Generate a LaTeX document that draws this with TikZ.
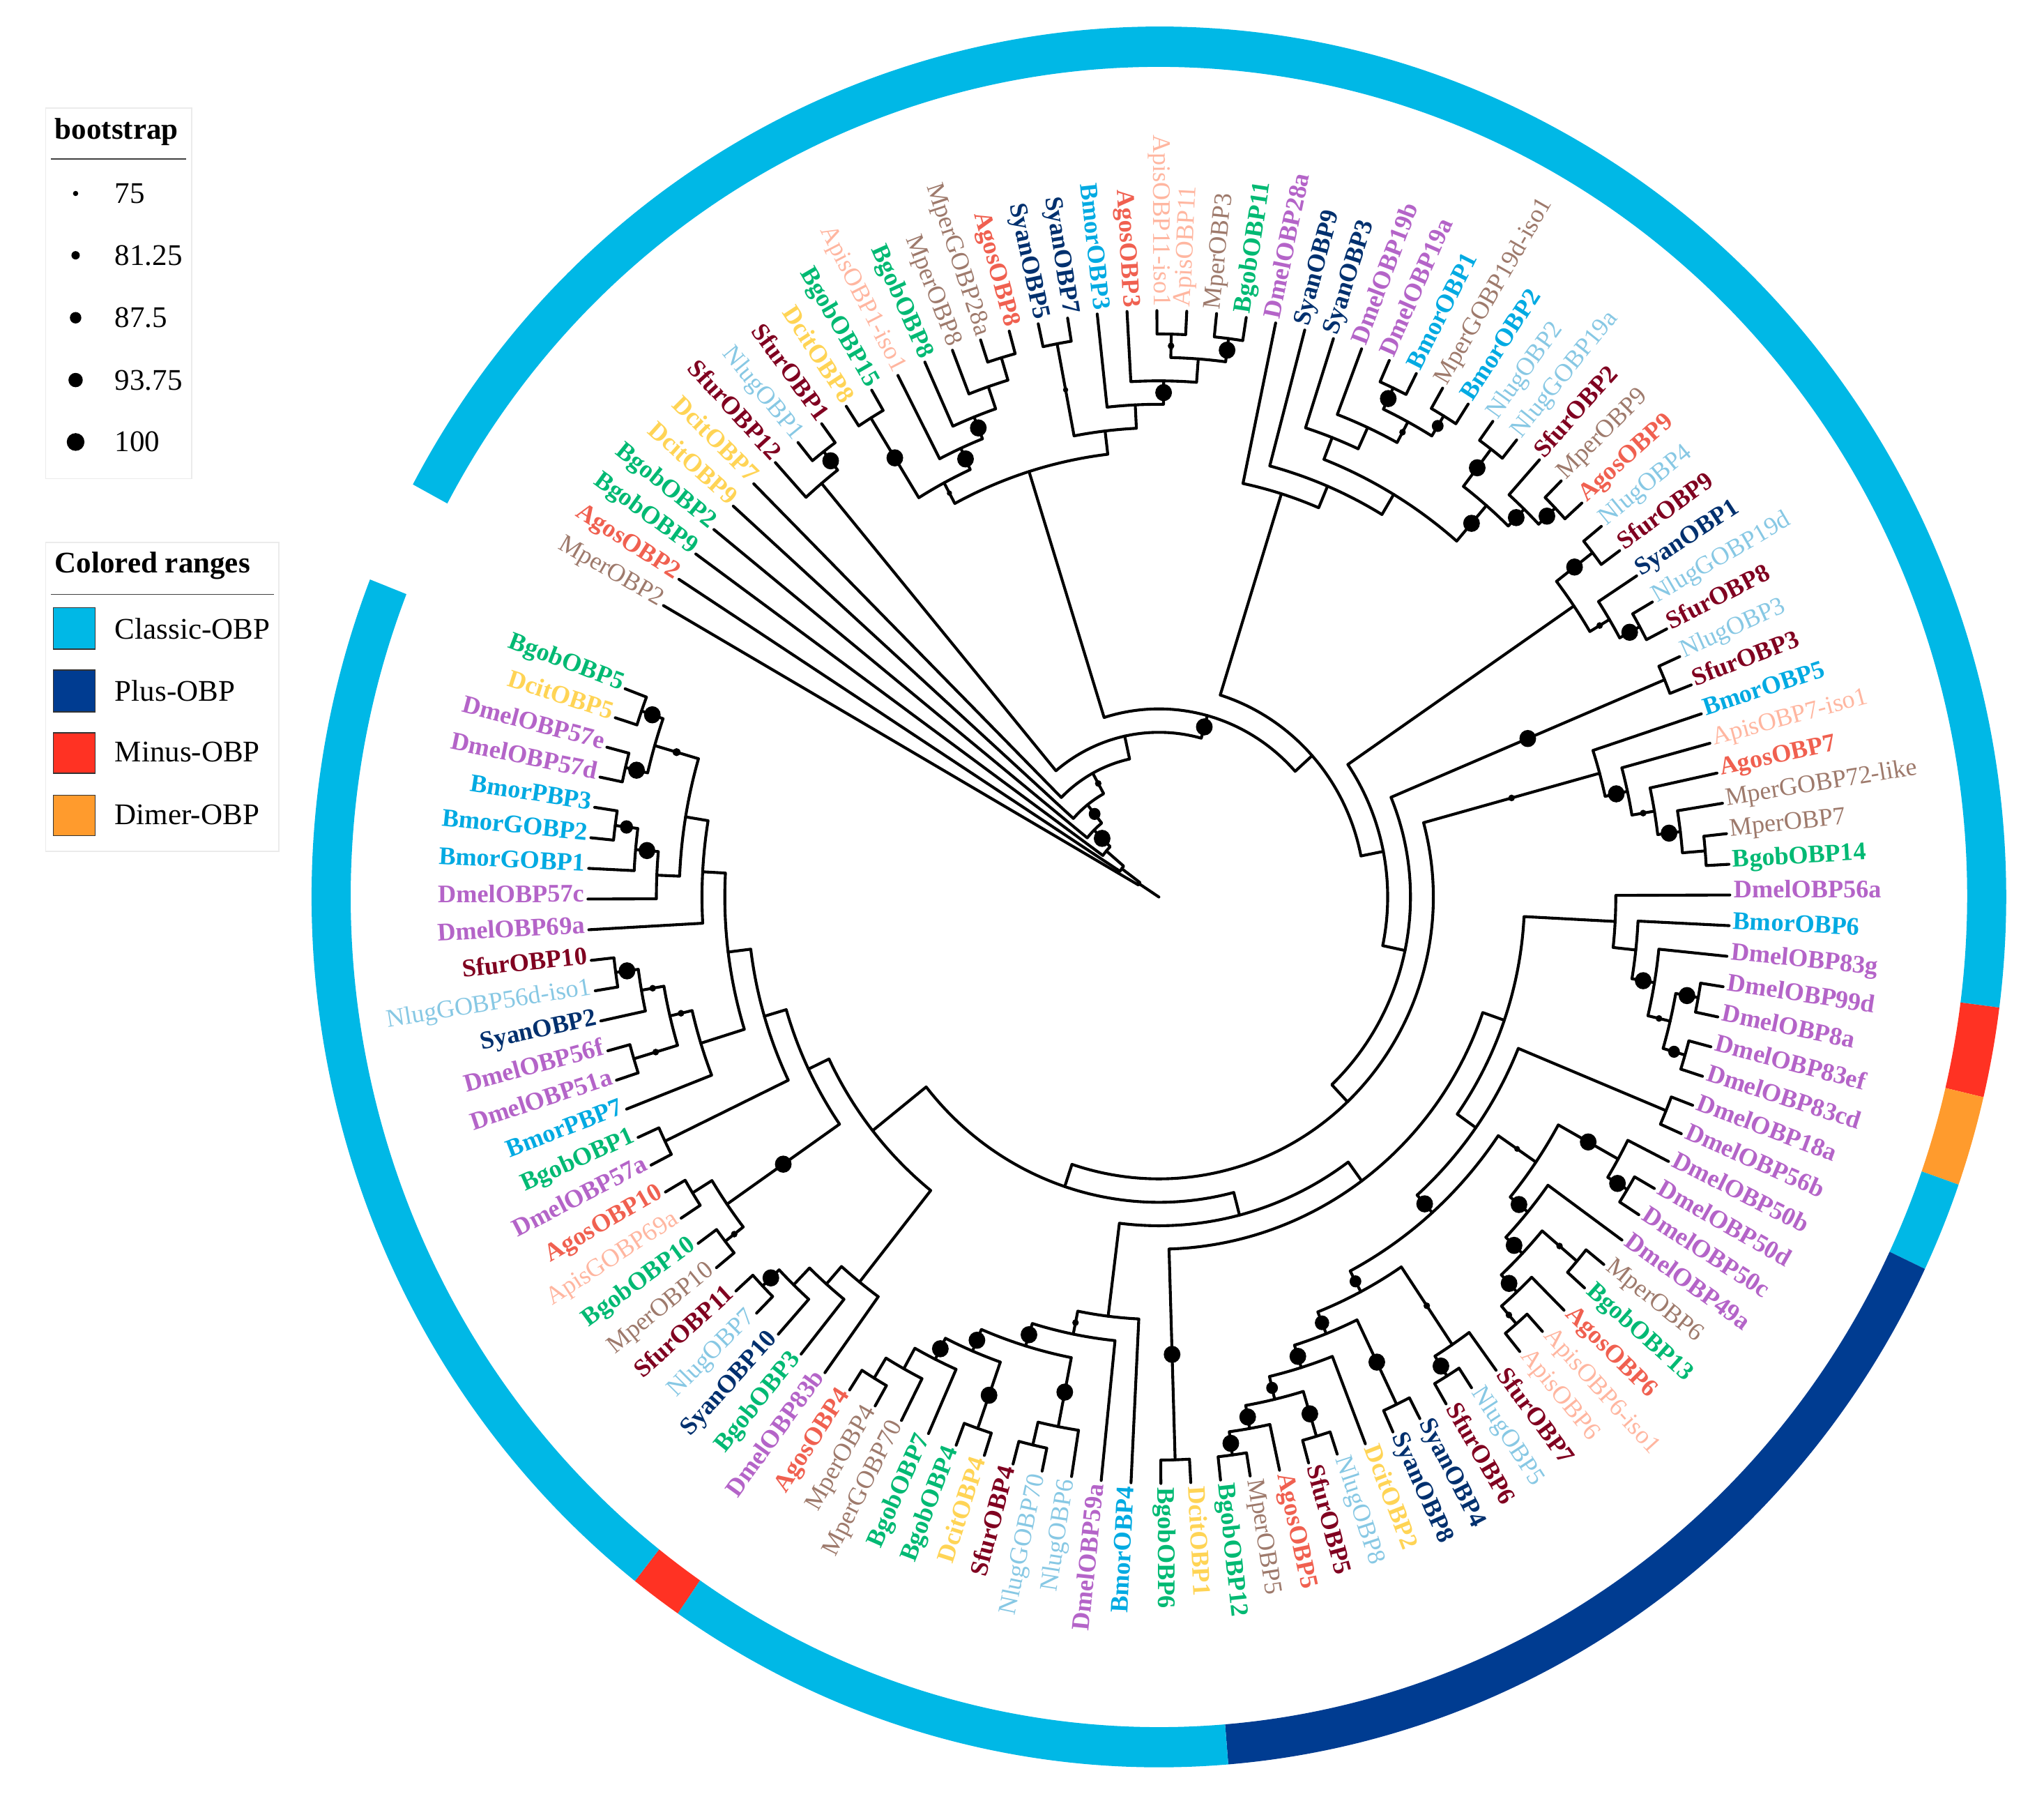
\documentclass[tikz,border=0pt]{standalone}
\usepackage{fontspec}
\setmainfont{Liberation Serif}
\definecolor{cBgob}{RGB}{0,185,115}
\definecolor{cDcit}{RGB}{255,212,85}
\definecolor{cDmel}{RGB}{180,100,200}
\definecolor{cBmor}{RGB}{0,170,226}
\definecolor{cSfur}{RGB}{128,0,32}
\definecolor{cNlug}{RGB}{135,200,228}
\definecolor{cSyan}{RGB}{0,48,110}
\definecolor{cMper}{RGB}{158,122,108}
\definecolor{cAgos}{RGB}{240,96,80}
\definecolor{cApis}{RGB}{255,182,160}
\definecolor{cClassic}{RGB}{0,184,230}
\definecolor{cPlus}{RGB}{0,60,145}
\definecolor{cMinus}{RGB}{255,50,35}
\definecolor{cDimer}{RGB}{255,155,45}
\newcommand\LF{\fontsize{19.4}{22}\selectfont}
\newcommand\PA[1]{(150.2-3*((#1)-1))}
\newcommand\HR[1]{(438-17.5*(#1))}
\newcommand\TWO[5]{\draw[br] ({\PA{#2}}:{\HR{#3}}) -- ({\PA{#2}}:{\HR{#1}}) arc[start angle={\PA{#2}}, end angle={\PA{#4}}, radius={\HR{#1}}] -- ({\PA{#4}}:{\HR{#5}});}
\newcommand\DT[4]{\fill ({\PA{#1}}:{(\HR{#2}+\HR{#3})/2}) circle[radius=#4];}
\newcommand\LR[3]{\node[lab,#2,anchor=mid west,rotate={\PA{#1}}] (L#1) at ({\PA{#1}}:441) {#3};}
\newcommand\LL[3]{\node[lab,#2,anchor=mid east,rotate={\PA{#1}+180}] (L#1) at ({\PA{#1}}:441) {#3};}
\newcommand\RING[3]{\fill[#1] ({\PA{#2}}:650) arc[start angle={\PA{#2}}, end angle={\PA{#3}}, radius=650] -- ({\PA{#3}}:620) arc[start angle={\PA{#3}}, end angle={\PA{#2}}, radius=620] -- cycle;}
\tikzset{
 br/.style={line width=2.2pt, line cap=round, line join=round},
 lab/.style={inner sep=0pt, outer sep=0pt},
 Bgob/.style={text=cBgob, font=\LF\bfseries},
 Dcit/.style={text=cDcit, font=\LF\bfseries},
 Dmel/.style={text=cDmel, font=\LF\bfseries},
 Bmor/.style={text=cBmor, font=\LF\bfseries},
 Sfur/.style={text=cSfur, font=\LF\bfseries},
 Syan/.style={text=cSyan, font=\LF\bfseries},
 Agos/.style={text=cAgos, font=\LF\bfseries},
 Nlug/.style={text=cNlug, font=\LF},
 Mper/.style={text=cMper, font=\LF},
 Apis/.style={text=cApis, font=\LF},
 legtxt/.style={anchor=west, inner sep=0pt, font=\fontsize{23}{26}\selectfont},
 legttl/.style={anchor=west, inner sep=0pt, font=\fontsize{23}{26}\selectfont\bfseries},
 legbox/.style={draw=black!8, line width=0.8pt},
 swatch/.style={draw=black!80, line width=0.8pt},
}
\begin{document}
\begin{tikzpicture}[x=1pt,y=1pt]
\fill[white] (0,0) rectangle (1568,-1381);
\useasboundingbox (0,0) rectangle (1568,-1381);
% ---------- legend ----------
\draw[legbox] (35,-83) rectangle (147,-367);
\node[legttl] (bt) at (42,-101) {bootstrap};
\draw[line width=0.8pt, black!75] (39,-122) -- (143,-122);
\fill (58,-148.4) circle[radius=2];
\fill (58,-195.8) circle[radius=3.2];
\fill (58,-243.7) circle[radius=4.4];
\fill (58,-291.5) circle[radius=5.5];
\fill (58,-339) circle[radius=6.8];
\node[legtxt] (b1) at (88,-148.4) {75};
\node[legtxt] (b2) at (88,-195.8) {81.25};
\node[legtxt] (b3) at (88,-243.7) {87.5};
\node[legtxt] (b4) at (88,-291.5) {93.75};
\node[legtxt] (b5) at (88,-339) {100};
\draw[legbox] (35,-416) rectangle (214,-653);
\node[legttl] (cr) at (42,-434) {Colored ranges};
\draw[line width=0.8pt, black!75] (39,-456) -- (210,-456);
\draw[swatch, fill=cClassic] (41,-466) rectangle (73,-498);
\draw[swatch, fill=cPlus] (41,-514) rectangle (73,-546);
\draw[swatch, fill=cMinus] (41,-562) rectangle (73,-593);
\draw[swatch, fill=cDimer] (41,-610) rectangle (73,-641);
\node[legtxt] (r1) at (88,-482) {Classic-OBP};
\node[legtxt] (r2) at (88,-530) {Plus-OBP};
\node[legtxt] (r3) at (88,-577) {Minus-OBP};
\node[legtxt] (r4) at (88,-625) {Dimer-OBP};
% ---------- tree ----------
\begin{scope}[shift={(889,-688)}, yscale=1.027]
\RING{cClassic}{0.5}{53.5}
\RING{cMinus}{53.5}{55.5}
\RING{cDimer}{55.5}{57.5}
\RING{cClassic}{57.5}{59.5}
\RING{cPlus}{59.5}{79.5}
\RING{cClassic}{79.5}{92.6}
\RING{cMinus}{92.6}{93.8}
\RING{cClassic}{93.8}{118.2}
% T1
\TWO{1}{8}{0}{9}{0}
\TWO{2}{7}{0}{8.5}{1}
% T2
\TWO{1}{10}{0}{11}{0}
\TWO{1}{15}{0}{16}{0}
\TWO{2}{14}{0}{15.5}{1}
\TWO{3}{13}{0}{14.75}{2}
\TWO{4}{12}{0}{13.875}{3}
\TWO{5}{10.5}{1}{12.9375}{4}
\TWO{1}{17}{0}{18}{0}
\TWO{1}{21}{0}{22}{0}
\TWO{1}{23}{0}{24}{0}
\TWO{2}{21.5}{1}{23.5}{1}
\TWO{3}{20}{0}{22.5}{2}
\TWO{4}{19}{0}{21.25}{3}
\TWO{5}{17.5}{1}{20.125}{4}
\TWO{6}{11.71875}{5}{18.8125}{5}
% CTop
\TWO{1}{29}{0}{30}{0}
\TWO{1}{31}{0}{32}{0}
\TWO{2}{29.5}{1}{31.5}{1}
\TWO{3}{28}{0}{30.5}{2}
\TWO{4}{27}{0}{29.25}{3}
\TWO{1}{33}{0}{34}{0}
\TWO{1}{36}{0}{37}{0}
\TWO{2}{35}{0}{36.5}{1}
\TWO{3}{33.5}{1}{35.75}{2}
\TWO{5}{28.125}{4}{34.625}{3}
\TWO{6}{26}{0}{31.375}{5}
\TWO{7}{25}{0}{28.6875}{6}
% C5
\TWO{1}{38}{0}{39}{0}
\TWO{1}{41}{0}{42}{0}
\TWO{2}{40}{0}{41.5}{1}
\TWO{3}{38.5}{1}{40.75}{2}
\TWO{1}{43}{0}{44}{0}
% N45
\TWO{1}{49}{0}{50}{0}
\TWO{2}{48}{0}{49.5}{1}
\TWO{3}{47}{0}{48.75}{2}
\TWO{4}{46}{0}{47.875}{3}
\TWO{5}{45}{0}{46.9375}{4}
% E
\TWO{1}{54}{0}{55}{0}
\TWO{1}{56}{0}{57}{0}
\TWO{2}{54.5}{1}{56.5}{1}
\TWO{3}{53}{0}{55.5}{2}
\TWO{4}{52}{0}{54.25}{3}
\TWO{5}{51}{0}{53.125}{4}
% F
\TWO{1}{58}{0}{59}{0}
\TWO{1}{61}{0}{62}{0}
\TWO{2}{60}{0}{61.5}{1}
\TWO{1}{64}{0}{65}{0}
\TWO{1}{67}{0}{68}{0}
\TWO{2}{66}{0}{67.5}{1}
\TWO{3}{64.5}{1}{66.75}{2}
\TWO{4}{63}{0}{65.625}{3}
\TWO{5}{60.75}{2}{64.3125}{4}
\TWO{1}{78}{0}{79}{0}
\TWO{2}{77}{0}{78.5}{1}
\TWO{1}{75}{0}{76}{0}
\TWO{3}{75.5}{1}{77.75}{2}
\TWO{4}{74}{0}{76.625}{3}
\TWO{1}{72}{0}{73}{0}
\TWO{5}{72.5}{1}{75.3125}{4}
\TWO{1}{70}{0}{71}{0}
\TWO{2}{69}{0}{70.5}{1}
\TWO{6}{69.75}{2}{73.90625}{5}
\TWO{7}{62.53125}{5}{71.828125}{6}
\TWO{8}{58.5}{1}{67.1796875}{7}
\TWO{9}{52.0625}{5}{62.83984375}{8}
% G
\TWO{1}{80}{0}{81}{0}
\TWO{1}{91}{0}{92}{0}
\TWO{2}{90}{0}{91.5}{1}
\TWO{3}{89}{0}{90.75}{2}
\TWO{1}{87}{0}{88}{0}
\TWO{4}{87.5}{1}{89.875}{3}
\TWO{1}{85}{0}{86}{0}
\TWO{2}{84}{0}{85.5}{1}
\TWO{5}{84.75}{2}{88.6875}{4}
\TWO{6}{83}{0}{86.71875}{5}
\TWO{7}{82}{0}{84.859375}{6}
\TWO{10}{57.451171875}{9}{80.5}{1}
\TWO{11}{68.9755859375}{10}{83.4296875}{7}
% H
\TWO{1}{117}{0}{118}{0}
\TWO{1}{115}{0}{116}{0}
\TWO{2}{115.5}{1}{117.5}{1}
\TWO{1}{113}{0}{114}{0}
\TWO{2}{112}{0}{113.5}{1}
\TWO{3}{111}{0}{112.75}{2}
\TWO{4}{111.875}{3}{116.5}{2}
\TWO{5}{110}{0}{114.1875}{4}
\TWO{1}{108}{0}{109}{0}
\TWO{2}{107}{0}{108.5}{1}
\TWO{1}{105}{0}{106}{0}
\TWO{3}{105.5}{1}{107.75}{2}
\TWO{4}{104}{0}{106.625}{3}
\TWO{6}{105.3125}{4}{112.09375}{5}
\TWO{1}{102}{0}{103}{0}
\TWO{7}{102.5}{1}{108.703125}{6}
\TWO{1}{100}{0}{101}{0}
\TWO{1}{98}{0}{99}{0}
\TWO{2}{98.5}{1}{100.5}{1}
\TWO{8}{99.5}{2}{105.6015625}{7}
\TWO{1}{96}{0}{97}{0}
\TWO{2}{95}{0}{96.5}{1}
\TWO{3}{94}{0}{95.75}{2}
\TWO{4}{93}{0}{94.875}{3}
\TWO{9}{93.9375}{4}{102.55078125}{8}
% backbone
\TWO{12}{76.20263671875}{11}{98.244140625}{9}
\TWO{13}{45.96875}{5}{87.223388671875}{12}
\TWO{14}{43.5}{1}{66.5960693359375}{13}
\TWO{15}{39.625}{3}{55.04803466796875}{14}
\TWO{16}{26.84375}{7}{47.336517333984375}{15}
\TWO{17}{15.265625}{6}{37.09013366699219}{16}
\TWO{18}{7.75}{2}{26.177879333496094}{17}
\TWO{19}{6}{0}{16.963939666748047}{18}
\TWO{20}{5}{0}{11.481969833374023}{19}
\TWO{21}{4}{0}{8.240984916687012}{20}
\TWO{22}{3}{0}{6.120492458343506}{21}
\TWO{23}{2}{0}{4.560246229171753}{22}
\TWO{24}{1}{0}{3.2801231145858765}{23}
\draw[br] (0,0) -- ({\PA{2.1400615572929382}}:{\HR{24}});
% bootstrap dots
\DT{8.5}{1}{2}{6.4}
\DT{10.5}{1}{5}{6.4}
\DT{13.875}{3}{4}{6.4}
\DT{12.9375}{4}{5}{6.4}
\DT{11.71875}{5}{6}{2}
\DT{17.5}{1}{5}{2}
\DT{21.5}{1}{2}{2.5}
\DT{23.5}{1}{2}{6.4}
\DT{21.25}{3}{4}{6.4}
\DT{29.5}{1}{2}{6.4}
\DT{31.5}{1}{2}{4.5}
\DT{30.5}{2}{3}{2.5}
\DT{33.5}{1}{3}{6.4}
\DT{36.5}{1}{2}{6.4}
\DT{35.75}{2}{3}{6.4}
\DT{34.625}{3}{5}{6.4}
\DT{38.5}{1}{3}{6.4}
\DT{41.5}{1}{2}{6.4}
\DT{40.75}{2}{3}{2.5}
\DT{43.5}{1}{14}{6.4}
\DT{45.96875}{5}{13}{2.5}
\DT{48.75}{2}{3}{6.4}
\DT{47.875}{3}{4}{2.5}
\DT{46.9375}{4}{5}{6.4}
\DT{54.5}{1}{2}{6.4}
\DT{56.5}{1}{2}{4.5}
\DT{55.5}{2}{3}{2.5}
\DT{54.25}{3}{4}{6.4}
\DT{61.5}{1}{2}{6.4}
\DT{60.75}{2}{5}{6.4}
\DT{64.3125}{4}{5}{6.4}
\DT{62.53125}{5}{7}{2.2}
\DT{67.1796875}{7}{8}{6.4}
\DT{64.5}{1}{3}{2.5}
\DT{67.5}{1}{2}{2.5}
\DT{66.75}{2}{3}{6.4}
\DT{65.625}{3}{4}{6.4}
\DT{78.5}{1}{2}{6.4}
\DT{77.75}{2}{3}{6.4}
\DT{75.5}{1}{3}{6.4}
\DT{76.625}{3}{4}{4.5}
\DT{75.3125}{4}{5}{6.4}
\DT{72.5}{1}{5}{6.4}
\DT{73.90625}{5}{6}{5.5}
\DT{71.828125}{6}{7}{4.5}
\DT{70.5}{1}{2}{6.4}
\DT{69.75}{2}{6}{2.5}
\DT{80.5}{1}{10}{6.4}
\DT{89.875}{3}{4}{6.4}
\DT{87.5}{1}{4}{6.4}
\DT{84.75}{2}{5}{6.4}
\DT{88.6875}{4}{5}{6.4}
\DT{86.71875}{5}{6}{6.4}
\DT{84.859375}{6}{7}{2.5}
\DT{117.5}{1}{2}{6.4}
\DT{115.5}{1}{2}{6.4}
\DT{116.5}{2}{4}{3}
\DT{113.5}{1}{2}{5}
\DT{112.75}{2}{3}{6.4}
\DT{108.5}{1}{2}{6.4}
\DT{107.75}{2}{3}{2.5}
\DT{105.5}{1}{3}{2.5}
\DT{106.625}{3}{4}{2.5}
\DT{98.5}{1}{2}{2.5}
\DT{99.5}{2}{8}{6.4}
\DT{96.5}{1}{2}{6.4}
\DT{26.177879333496094}{17}{18}{6.4}
\DT{8.240984916687012}{20}{21}{4.5}
\DT{6.120492458343506}{21}{22}{6.4}
\DT{11.481969833374023}{19}{20}{2.5}
% labels
\LL{1}{Mper}{MperOBP2}
\LL{2}{Agos}{AgosOBP2}
\LL{3}{Bgob}{BgobOBP9}
\LL{4}{Bgob}{BgobOBP2}
\LL{5}{Dcit}{DcitOBP9}
\LL{6}{Dcit}{DcitOBP7}
\LL{7}{Sfur}{SfurOBP12}
\LL{8}{Nlug}{NlugOBP1}
\LL{9}{Sfur}{SfurOBP1}
\LL{10}{Dcit}{DcitOBP8}
\LL{11}{Bgob}{BgobOBP15}
\LL{12}{Apis}{ApisOBP1-iso1}
\LL{13}{Bgob}{BgobOBP8}
\LL{14}{Mper}{MperOBP8}
\LL{15}{Mper}{MperGOBP28a}
\LL{16}{Agos}{AgosOBP8}
\LL{17}{Syan}{SyanOBP5}
\LL{18}{Syan}{SyanOBP7}
\LL{19}{Bmor}{BmorOBP3}
\LL{20}{Agos}{AgosOBP3}
\LL{21}{Apis}{ApisOBP11-iso1}
\LR{22}{Apis}{ApisOBP11}
\LR{23}{Mper}{MperOBP3}
\LR{24}{Bgob}{BgobOBP11}
\LR{25}{Dmel}{DmelOBP28a}
\LR{26}{Syan}{SyanOBP9}
\LR{27}{Syan}{SyanOBP3}
\LR{28}{Dmel}{DmelOBP19b}
\LR{29}{Dmel}{DmelOBP19a}
\LR{30}{Bmor}{BmorOBP1}
\LR{31}{Mper}{MperGOBP19d-iso1}
\LR{32}{Bmor}{BmorOBP2}
\LR{33}{Nlug}{NlugOBP2}
\LR{34}{Nlug}{NlugGOBP19a}
\LR{35}{Sfur}{SfurOBP2}
\LR{36}{Mper}{MperOBP9}
\LR{37}{Agos}{AgosOBP9}
\LR{38}{Nlug}{NlugOBP4}
\LR{39}{Sfur}{SfurOBP9}
\LR{40}{Syan}{SyanOBP1}
\LR{41}{Nlug}{NlugGOBP19d}
\LR{42}{Sfur}{SfurOBP8}
\LR{43}{Nlug}{NlugOBP3}
\LR{44}{Sfur}{SfurOBP3}
\LR{45}{Bmor}{BmorOBP5}
\LR{46}{Apis}{ApisOBP7-iso1}
\LR{47}{Agos}{AgosOBP7}
\LR{48}{Mper}{MperGOBP72-like}
\LR{49}{Mper}{MperOBP7}
\LR{50}{Bgob}{BgobOBP14}
\LR{51}{Dmel}{DmelOBP56a}
\LR{52}{Bmor}{BmorOBP6}
\LR{53}{Dmel}{DmelOBP83g}
\LR{54}{Dmel}{DmelOBP99d}
\LR{55}{Dmel}{DmelOBP8a}
\LR{56}{Dmel}{DmelOBP83ef}
\LR{57}{Dmel}{DmelOBP83cd}
\LR{58}{Dmel}{DmelOBP18a}
\LR{59}{Dmel}{DmelOBP56b}
\LR{60}{Dmel}{DmelOBP50b}
\LR{61}{Dmel}{DmelOBP50d}
\LR{62}{Dmel}{DmelOBP50c}
\LR{63}{Dmel}{DmelOBP49a}
\LR{64}{Mper}{MperOBP6}
\LR{65}{Bgob}{BgobOBP13}
\LR{66}{Agos}{AgosOBP6}
\LR{67}{Apis}{ApisOBP6-iso1}
\LR{68}{Apis}{ApisOBP6}
\LR{69}{Sfur}{SfurOBP7}
\LR{70}{Nlug}{NlugOBP5}
\LR{71}{Sfur}{SfurOBP6}
\LR{72}{Syan}{SyanOBP4}
\LR{73}{Syan}{SyanOBP8}
\LR{74}{Dcit}{DcitOBP2}
\LR{75}{Nlug}{NlugOBP8}
\LR{76}{Sfur}{SfurOBP5}
\LR{77}{Agos}{AgosOBP5}
\LR{78}{Mper}{MperOBP5}
\LR{79}{Bgob}{BgobOBP12}
\LR{80}{Dcit}{DcitOBP1}
\LR{81}{Bgob}{BgobOBP6}
\LL{82}{Bmor}{BmorOBP4}
\LL{83}{Dmel}{DmelOBP59a}
\LL{84}{Nlug}{NlugOBP6}
\LL{85}{Nlug}{NlugGOBP70}
\LL{86}{Sfur}{SfurOBP4}
\LL{87}{Dcit}{DcitOBP4}
\LL{88}{Bgob}{BgobOBP4}
\LL{89}{Bgob}{BgobOBP7}
\LL{90}{Mper}{MperGOBP70}
\LL{91}{Mper}{MperOBP4}
\LL{92}{Agos}{AgosOBP4}
\LL{93}{Dmel}{DmelOBP83b}
\LL{94}{Bgob}{BgobOBP3}
\LL{95}{Syan}{SyanOBP10}
\LL{96}{Nlug}{NlugOBP7}
\LL{97}{Sfur}{SfurOBP11}
\LL{98}{Mper}{MperOBP10}
\LL{99}{Bgob}{BgobOBP10}
\LL{100}{Apis}{ApisGOBP69a}
\LL{101}{Agos}{AgosOBP10}
\LL{102}{Dmel}{DmelOBP57a}
\LL{103}{Bgob}{BgobOBP1}
\LL{104}{Bmor}{BmorPBP7}
\LL{105}{Dmel}{DmelOBP51a}
\LL{106}{Dmel}{DmelOBP56f}
\LL{107}{Syan}{SyanOBP2}
\LL{108}{Nlug}{NlugGOBP56d-iso1}
\LL{109}{Sfur}{SfurOBP10}
\LL{110}{Dmel}{DmelOBP69a}
\LL{111}{Dmel}{DmelOBP57c}
\LL{112}{Bmor}{BmorGOBP1}
\LL{113}{Bmor}{BmorGOBP2}
\LL{114}{Bmor}{BmorPBP3}
\LL{115}{Dmel}{DmelOBP57d}
\LL{116}{Dmel}{DmelOBP57e}
\LL{117}{Dcit}{DcitOBP5}
\LL{118}{Bgob}{BgobOBP5}
\end{scope}
\end{tikzpicture}
\end{document}
